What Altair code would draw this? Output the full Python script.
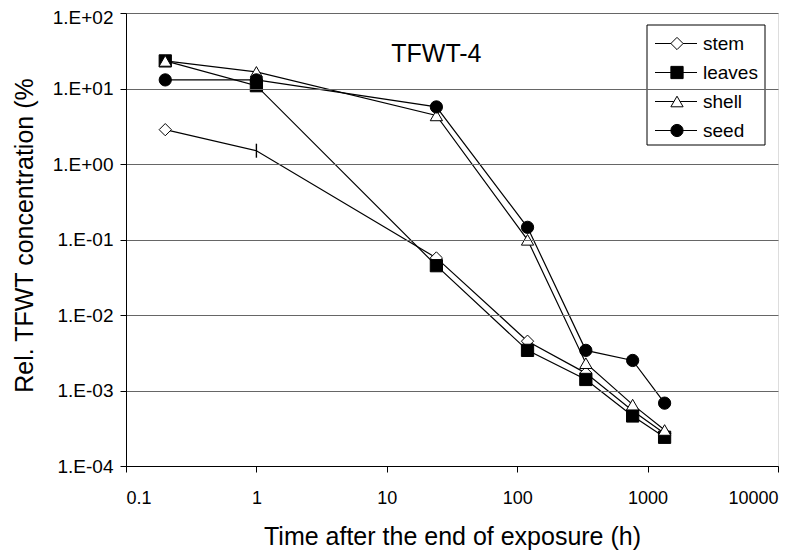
import altair as alt
import pandas as pd

# ---- data ----
hours = [0.2, 1, 24, 120, 336, 768, 1350]
series_names = ["stem", "leaves", "shell", "seed"]
stem = [2.85, 1.5, 0.057, 0.0045, 0.0017, 0.00054, 0.00027]
leaves = [23.2, 10.9, 0.045, 0.0034, 0.0014, 0.00046, 0.00024]
shell = [23.2, 16.6, 4.4, 0.099, 0.0023, 0.00065, 0.00030]
seed = [13.0, 13.0, 5.7, 0.145, 0.0034, 0.0025, 0.00068]

x_ticks = [0.1, 1, 10, 100, 1000, 10000]
y_ticks = [1e-4, 1e-3, 1e-2, 1e-1, 1, 10, 100]
y_tick_labels = ["1.E-04", "1.E-03", "1.E-02", "1.E-01", "1.E+00", "1.E+01", "1.E+02"]
panel_label = "TFWT-4"
x_title = "Time after the end of exposure (h)"
y_title = "Rel. TFWT concentration (%"

FONT = "Liberation Sans"

rows = []
for si, (name, vals) in enumerate(zip(series_names, [stem, leaves, shell, seed])):
    for t, v in zip(hours, vals):
        rows.append({"series": name, "sidx": si, "t": t, "v": v})
df = pd.DataFrame(rows)

shape_scale = alt.Scale(domain=series_names,
                        range=["diamond", "square", "triangle-up", "circle"])
fill_scale = alt.Scale(domain=series_names,
                       range=["white", "black", "white", "black"])

# y label expression built from the tick lists
y_expr = "'" + y_tick_labels[-1] + "'"
for val, lab in reversed(list(zip(y_ticks[:-1], y_tick_labels[:-1]))):
    y_expr = f"(datum.value < {val * 1.5}) ? '{lab}' : " + y_expr

x_axis = alt.Axis(values=x_ticks,
                  labelExpr="datum.value < 0.5 ? '0.1' : format(datum.value, 'd')",
                  labelFont=FONT, labelFontSize=18, labelColor="black",
                  labelPadding=17, tickSize=6, tickColor="black",
                  domainColor="black", grid=False, zindex=1,
                  title=x_title, titleFont=FONT, titleFontSize=25,
                  titleFontWeight="normal", titleColor="black",
                  titleX=326, titleY=78, titleBaseline="alphabetic",
                  titleAlign="center")
y_axis = alt.Axis(values=y_ticks, labelExpr=y_expr,
                  labelFont=FONT, labelFontSize=19, labelColor="black",
                  labelPadding=7, tickSize=6, tickColor="black",
                  labelOffset={"condition": {"test": "datum.value > 50", "value": 4.5},
                               "value": 0},
                  domainColor="black", grid=True, gridColor="#666666",
                  gridWidth=1, zindex=1,
                  title=y_title, titleFont=FONT, titleFontSize=25,
                  titleFontWeight="normal", titleColor="black",
                  titleX=-102, titleY=222, titleBaseline="middle",
                  titleAlign="center", titleAngle=270)

X = alt.X("t:Q", scale=alt.Scale(type="log", domain=[0.1, 10000]), axis=x_axis)
Y = alt.Y("v:Q", scale=alt.Scale(type="log", domain=[1e-4, 100]), axis=y_axis)

base = alt.Chart(df)

lines = base.mark_line(color="black", strokeWidth=1.2).encode(
    x=X, y=Y, detail="series:N", order=alt.Order("t:Q"))

points = base.transform_filter(
    "!(datum.series == 'stem' && datum.t == 1)"
).mark_point(filled=True, stroke="black", strokeWidth=1, opacity=1, size=150).encode(
    x=X, y=Y,
    shape=alt.Shape("series:N", scale=shape_scale, legend=None),
    fill=alt.Fill("series:N", scale=fill_scale, legend=None),
    order=alt.Order("sidx:Q"))

stem_tick = base.transform_filter(
    "datum.series == 'stem' && datum.t == 1"
).mark_point(shape="M0,-1L0,1", size=196, stroke="black", strokeWidth=1.4,
             opacity=1).encode(x=X, y=Y)

label_df = pd.DataFrame({"t": [24], "v": [28.7], "label": [panel_label]})
label = alt.Chart(label_df).mark_text(font=FONT, fontSize=25, color="black").encode(
    x="t:Q", y="v:Q", text="label:N")

# ---- legend drawn by hand ----
legend_layers = [
    alt.Chart(pd.DataFrame({"a": [0]})).mark_rect(
        fill="white", stroke="black", strokeWidth=1).encode(
        x=alt.value(521), x2=alt.value(639), y=alt.value(12), y2=alt.value(132))
]
for i, name in enumerate(series_names):
    yy = 30.5 + 29 * i
    ldf = pd.DataFrame({"series": [name]})
    legend_layers.append(alt.Chart(ldf).mark_rule(color="black", strokeWidth=1.2).encode(
        x=alt.value(529), x2=alt.value(571), y=alt.value(yy)))
    legend_layers.append(alt.Chart(ldf).mark_point(
        filled=True, stroke="black", strokeWidth=1, opacity=1, size=150).encode(
        x=alt.value(551), y=alt.value(yy),
        shape=alt.Shape("series:N", scale=shape_scale, legend=None),
        fill=alt.Fill("series:N", scale=fill_scale, legend=None)))
    legend_layers.append(alt.Chart(ldf).mark_text(
        align="left", baseline="middle", font=FONT, fontSize=19, color="black").encode(
        x=alt.value(577), y=alt.value(yy), text="series:N"))

chart = alt.layer(lines, points, stem_tick, label, *legend_layers).properties(
    width=652, height=453,
    autosize=alt.AutoSizeParams(type="none"),
    padding={"left": 118, "top": 5, "right": 20, "bottom": 84},
).configure_view(stroke="#808080", strokeWidth=1.5).configure(font=FONT, background="white")

chart.save("out.html", embed_options={"renderer": "svg", "actions": False})
